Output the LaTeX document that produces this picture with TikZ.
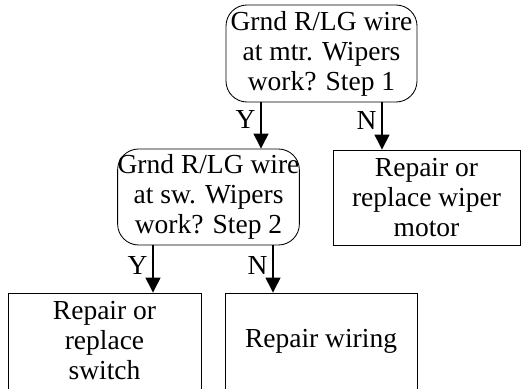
\documentclass[tikz,border=0pt]{standalone}
\usepackage{fontspec}
\setmainfont{Liberation Serif}
\usetikzlibrary{arrows.meta}

\tikzset{
	query/.style={draw,line width=0.3mm,rounded corners=21pt,align=center,inner sep=0pt},
	action/.style={draw,line width=0.3mm,align=center,inner sep=0pt},
	flow/.style={line width=0.4mm,-{Triangle[width=15pt,length=15pt]}},
	answer/.style={left,inner sep=5pt}
}

\begin{document}
\begin{tikzpicture}[x=1pt,y=-1pt,font=\fontsize{27.5pt}{30pt}\selectfont]
	\useasboundingbox (0,0) rectangle (521,388);

	% questions
	\node[query,minimum width=191pt,minimum height=97pt] (step1) at (321.5,53.5) {Grnd R/LG wire\\at mtr. Wipers\\work? Step 1};
	\node[query,minimum width=181pt,minimum height=96pt] (step2) at (208.5,197) {Grnd R/LG wire\\at sw. Wipers\\work? Step 2};

	% repairs
	\node[action,minimum width=187pt,minimum height=95pt] (motor) at (426.5,197.5) {Repair or\\replace wiper\\motor};
	\node[action,minimum width=193pt,minimum height=96pt] (switch) at (104.5,341) {Repair or\\replace\\switch};
	\node[action,minimum width=192pt,minimum height=96pt] (wiring) at (321,341) {Repair wiring};

	\draw[flow] ([xshift=-60.5pt]step1.south) -- node[answer,pos=.38] {Y} ([xshift=-60.5pt]step1.south |- step2.north);
	\draw[flow] ([xshift=60.5pt]step1.south) -- node[answer,pos=.38] {N} ([xshift=60.5pt]step1.south |- motor.north);
	\draw[flow] ([xshift=-55.5pt]step2.south) -- node[answer,pos=.42] {Y} ([xshift=-55.5pt]step2.south |- switch.north);
	\draw[flow] ([xshift=64.5pt]step2.south) -- node[answer,pos=.42] {N} ([xshift=64.5pt]step2.south |- wiring.north);

\end{tikzpicture}
\end{document}
